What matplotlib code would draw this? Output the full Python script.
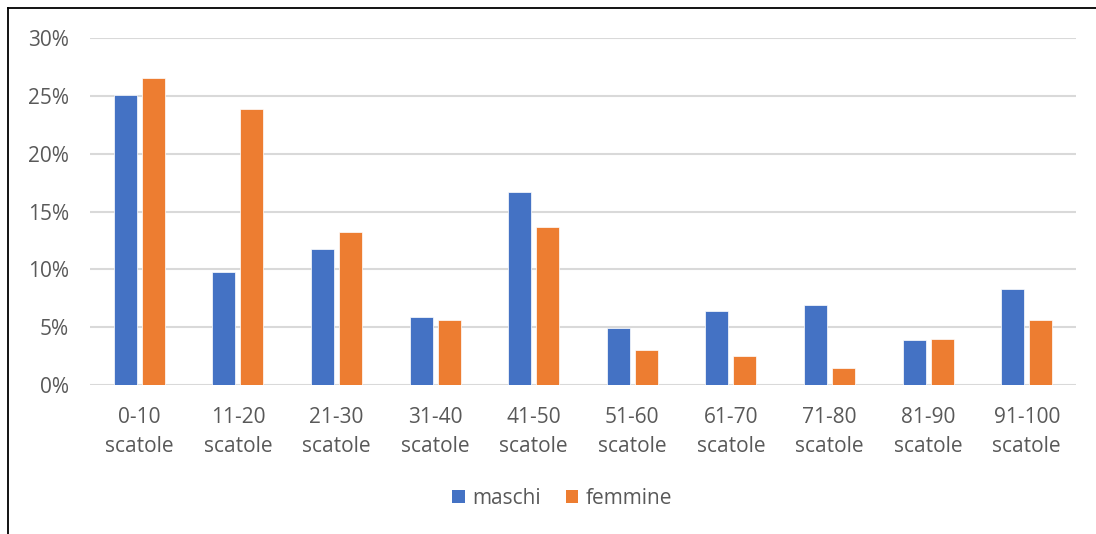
import matplotlib
matplotlib.use("Agg")
import matplotlib.pyplot as plt
import numpy as np
from matplotlib.patches import Patch
from matplotlib.lines import Line2D
from matplotlib.ticker import PercentFormatter

categories = ["0-10\nscatole", "11-20\nscatole", "21-30\nscatole", "31-40\nscatole",
              "41-50\nscatole", "51-60\nscatole", "61-70\nscatole", "71-80\nscatole",
              "81-90\nscatole", "91-100\nscatole"]
maschi = [25.1, 9.8, 11.8, 5.9, 16.7, 4.9, 6.4, 6.9, 3.9, 8.3]
femmine = [26.5, 23.9, 13.2, 5.6, 13.7, 3.0, 2.5, 1.5, 4.0, 5.6]
series_names = ["maschi", "femmine"]
yticks = [0, 5, 10, 15, 20, 25, 30]

BLUE = "#4472C4"
ORANGE = "#ED7D31"
TEXT = "#595959"
GRID = "#D9D9D9"

plt.rcParams["font.family"] = ["Open Sans", "DejaVu Sans"]

W, H = 1096, 534
fig = plt.figure(figsize=(W / 100, H / 100), dpi=100)
ax = fig.add_axes([90 / W, 1 - 385 / H, (1076 - 90) / W, (385 - 38) / H])

x = np.arange(len(categories))
bw = 0.235
off = 0.142
ax.bar(x - off, maschi, bw, color=BLUE, edgecolor="white", linewidth=0.5, zorder=3)
ax.bar(x + off, femmine, bw, color=ORANGE, edgecolor="white", linewidth=0.5, zorder=3)

ax.set_xlim(-0.5, len(categories) - 0.5)
ax.set_ylim(0, 30)
ax.set_yticks(yticks)
ax.yaxis.set_major_formatter(PercentFormatter(decimals=0))
ax.set_xticks(x)
ax.set_xticklabels(categories, linespacing=1.55)

ax.grid(axis="y", color=GRID, linewidth=1.5, zorder=0)
ax.set_axisbelow(True)
for s in ax.spines.values():
    s.set_visible(False)
ax.tick_params(axis="both", length=0, labelsize=15, labelcolor=TEXT)
ax.tick_params(axis="y", pad=15)
ax.tick_params(axis="x", pad=15.5)

handles = [Patch(facecolor=BLUE), Patch(facecolor=ORANGE)]
leg = fig.legend(handles, series_names, loc="center",
                 bbox_to_anchor=(562 / W, 1 - 498 / H), ncol=2, frameon=False,
                 fontsize=15, handlelength=0.6, handleheight=0.6,
                 handletextpad=0.35, columnspacing=1.2)
for t in leg.get_texts():
    t.set_color(TEXT)

# outer frame (top and left edges)
fig.add_artist(Line2D([8 / W, 1.0], [1 - 8 / H, 1 - 8 / H], color="black",
                      linewidth=1.3, transform=fig.transFigure))
fig.add_artist(Line2D([8 / W, 8 / W], [1 - 8 / H, 0.0], color="black",
                      linewidth=1.3, transform=fig.transFigure))

fig.savefig("out.png", dpi=100, facecolor="white")
